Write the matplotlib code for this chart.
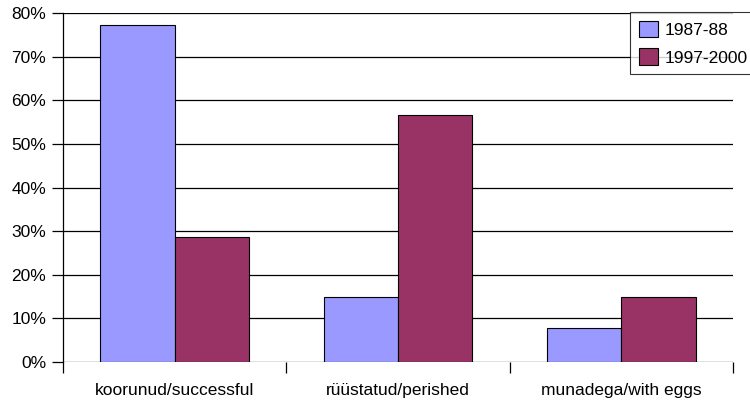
import matplotlib.pyplot as plt
import numpy as np
from matplotlib.ticker import FixedLocator, PercentFormatter

plt.rcParams['font.family'] = ['Liberation Sans', 'DejaVu Sans']

categories = ["koorunud/successful", "rüüstatud/perished", "munadega/with eggs"]
series_names = ["1987-88", "1997-2000"]
vals_8788 = [77.2, 14.9, 7.9]
vals_9700 = [28.7, 56.7, 14.8]
colors = ["#9999FF", "#993366"]

fig = plt.figure(figsize=(7.5, 4.03), dpi=100)
ax = fig.add_axes([63/750, 41/403, 670/750, 349/403])

x = np.arange(len(categories))
w = 1/3
ax.bar(x - w/2, vals_8788, w, color=colors[0], edgecolor="black", linewidth=0.8,
       label=series_names[0], zorder=3)
ax.bar(x + w/2, vals_9700, w, color=colors[1], edgecolor="black", linewidth=0.8,
       label=series_names[1], zorder=3)

ax.set_xlim(-0.5, len(categories) - 0.5)
ax.set_ylim(0, 80)
ax.set_yticks(np.arange(0, 81, 10))
ax.yaxis.set_major_formatter(PercentFormatter(decimals=0))
ax.yaxis.grid(True, color="black", linewidth=0.9, zorder=0)

ax.set_xticks(x)
ax.set_xticklabels(categories)
ax.xaxis.set_minor_locator(FixedLocator(np.arange(-0.5, len(categories), 1)))
ax.tick_params(axis="x", which="major", length=0, pad=15, labelsize=12.5)
ax.tick_params(axis="x", which="minor", length=8, width=0.9, direction="out")
ax.tick_params(axis="y", length=8, width=0.9, labelsize=12.5, pad=4)

for s in ["top", "right", "bottom"]:
    ax.spines[s].set_visible(False)
ax.spines["left"].set_linewidth(0.9)
ax.spines["left"].set_bounds(0, 80)

leg = ax.legend(loc="upper left", bbox_to_anchor=(630/750, 1 - 12/403),
                bbox_transform=fig.transFigure, frameon=True, fancybox=False,
                fontsize=12.5, handlelength=1.1, handleheight=1.1,
                handletextpad=0.4, borderpad=0.5, labelspacing=0.6,
                borderaxespad=0)
leg.get_frame().set_edgecolor("black")
leg.get_frame().set_linewidth(0.8)

fig.savefig("out.png", dpi=100)
